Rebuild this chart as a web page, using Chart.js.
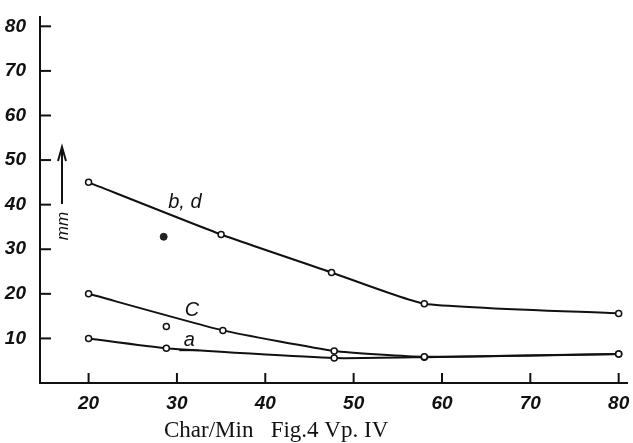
<!DOCTYPE html>
<html>
<head>
<meta charset="utf-8">
<script src="https://cdn.jsdelivr.net/npm/chart.js@4.4.1/dist/chart.umd.min.js"></script>
<style>
  html, body { margin: 0; padding: 0; background: #fff; }
  #wrap { width: 633px; height: 443px; position: relative; }
</style>
</head>
<body>
<div id="wrap"><canvas id="chart"></canvas></div>
<script>
// values
const xTicks = [20, 30, 40, 50, 60, 70, 80];
const yTicks = [10, 20, 30, 40, 50, 60, 70, 80];

const bdX = [20, 35, 47.5, 58, 80];
const bdY = [45, 33.3, 24.8, 17.8, 15.6];

const cX = [20, 35.2, 47.8, 58, 80];
const cY = [20, 11.8, 7.2, 5.9, 6.5];

const aX = [20, 28.8, 47.8, 58, 80];
const aY = [10, 7.8, 5.6, 5.8, 6.5];

const strayX = [28.8];
const strayY = [12.7];
const blobX = [28.5];
const blobY = [32.8];

const curveLabels = [
    { text: 'b, d', x: 30.9, y: 39.2 },
    { text: 'C', x: 31.7, y: 15.1 },
    { text: 'a', x: 31.4, y: 8.2, underline: true }
];

const toPts = (xs, ys) => xs.map((x, i) => ({ x: x, y: ys[i] }));

const lineSet = (label, xs, ys) => ({
    label: label,
    data: toPts(xs, ys),
    showLine: true,
    borderColor: '#111',
    borderWidth: 2,
    pointRadius: 3,
    pointBorderWidth: 1.5,
    pointBackgroundColor: '#fff',
    pointBorderColor: '#111',
    tension: 0.15
});

const inkPlugin = {
    id: 'ink',
    afterDatasetsDraw(chart) {
        const ctx = chart.ctx;
        const xs = chart.scales.x, ys = chart.scales.y;
        const area = chart.chartArea;
        ctx.save();
        ctx.strokeStyle = '#111';
        ctx.fillStyle = '#111';
        ctx.lineWidth = 2;

        // inward tick marks
        yTicks.forEach(v => {
            const py = ys.getPixelForValue(v);
            ctx.beginPath();
            ctx.moveTo(area.left, py);
            ctx.lineTo(area.left + 11, py);
            ctx.stroke();
        });
        xTicks.forEach(v => {
            const px = xs.getPixelForValue(v);
            ctx.beginPath();
            ctx.moveTo(px, area.bottom);
            ctx.lineTo(px, area.bottom - 10);
            ctx.stroke();
        });

        // curve labels
        ctx.font = 'italic 20px "Liberation Sans", sans-serif';
        ctx.textAlign = 'center';
        ctx.textBaseline = 'alphabetic';
        curveLabels.forEach(l => {
            const px = xs.getPixelForValue(l.x), py = ys.getPixelForValue(l.y);
            ctx.fillText(l.text, px, py);
            if (l.underline) {
                ctx.lineWidth = 1.5;
                ctx.beginPath();
                ctx.moveTo(px - 10, py + 4);
                ctx.lineTo(px + 10, py + 4);
                ctx.stroke();
                ctx.lineWidth = 2;
            }
        });

        // mm arrow and unit
        const ax = area.left + 22;
        ctx.beginPath();
        ctx.moveTo(ax, 204);
        ctx.lineTo(ax, 150);
        ctx.stroke();
        ctx.beginPath();
        ctx.moveTo(ax - 4, 161);
        ctx.lineTo(ax, 147);
        ctx.lineTo(ax + 4, 161);
        ctx.stroke();
        ctx.save();
        ctx.translate(ax + 6, 226);
        ctx.rotate(-Math.PI / 2);
        ctx.font = 'italic 17px "Liberation Sans", sans-serif';
        ctx.textAlign = 'center';
        ctx.fillText('mm', 0, 0);
        ctx.restore();

        // caption
        ctx.font = '23px "Liberation Serif", serif';
        ctx.textAlign = 'left';
        ctx.fillText('Char/Min   Fig.4 Vp. IV', 164, 437);
        ctx.restore();
    }
};

const tickFont = { family: '"Liberation Sans", sans-serif', size: 19, style: 'italic', weight: 'bold' };

new Chart(document.getElementById('chart'), {
    type: 'scatter',
    data: {
        datasets: [
            lineSet('b, d', bdX, bdY),
            lineSet('c', cX, cY),
            lineSet('a', aX, aY),
            {
                label: 'stray',
                data: toPts(strayX, strayY),
                pointRadius: 3,
                pointBorderWidth: 1.5,
                pointBackgroundColor: '#fff',
                pointBorderColor: '#111'
            },
            {
                label: 'blob',
                data: toPts(blobX, blobY),
                pointRadius: 3.5,
                pointBackgroundColor: '#222',
                pointBorderColor: '#222'
            }
        ]
    },
    plugins: [inkPlugin],
    options: {
        responsive: true,
        maintainAspectRatio: false,
        animation: false,
        layout: { padding: { top: 15, right: 2, left: 0, bottom: 0 } },
        plugins: { legend: { display: false }, tooltip: { enabled: false } },
        scales: {
            x: {
                type: 'linear',
                min: 14.5,
                max: 81,
                afterBuildTicks: s => { s.ticks = xTicks.map(v => ({ value: v })); },
                afterFit: s => { s.height = 60; },
                grid: { display: false },
                border: { display: true, color: '#111', width: 2 },
                ticks: { color: '#111', font: tickFont, padding: 1, maxRotation: 0 }
            },
            y: {
                type: 'linear',
                min: 0,
                max: 82,
                afterBuildTicks: s => { s.ticks = yTicks.map(v => ({ value: v })); },
                afterFit: s => { s.width = 40; },
                grid: { display: false },
                border: { display: true, color: '#111', width: 2 },
                ticks: { color: '#111', font: tickFont, padding: 6 }
            }
        }
    }
});
</script>
</body>
</html>
